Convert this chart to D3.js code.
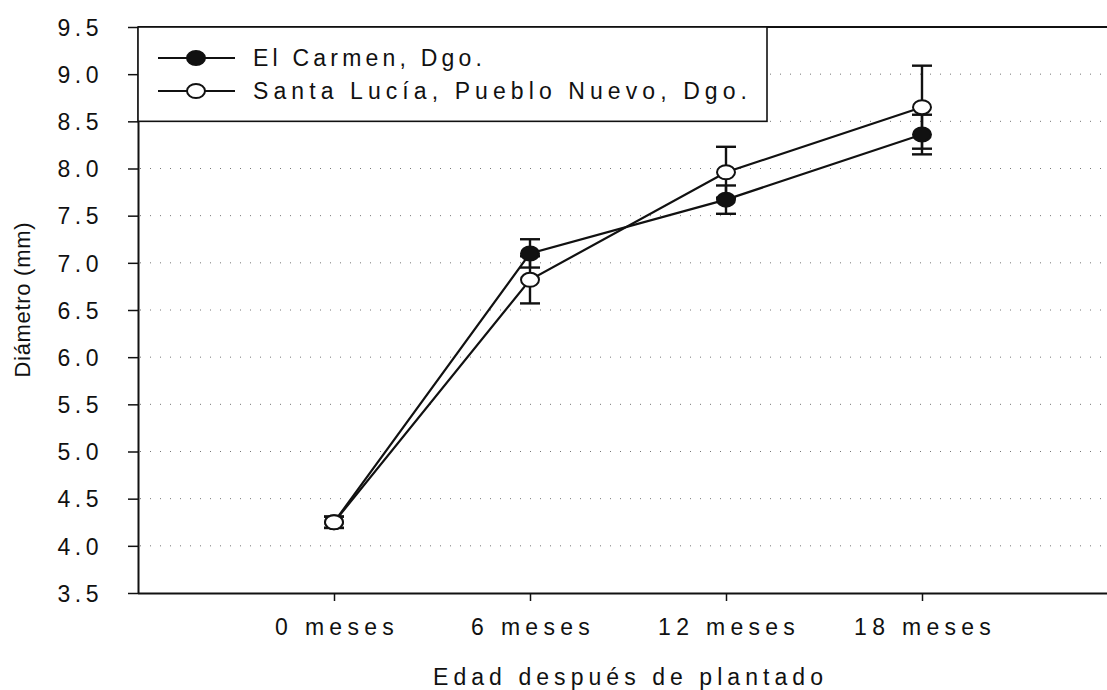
<!DOCTYPE html>
<html>
<head>
<meta charset="utf-8">
<script src="https://cdn.jsdelivr.net/npm/d3@7/dist/d3.min.js"></script>
<style>
  html, body { margin: 0; padding: 0; background: #fff; }
  svg { display: block; }
  text { font-family: "Liberation Sans", Arial, sans-serif; fill: #111; }
</style>
</head>
<body>
<svg id="chart" width="1107" height="690"></svg>
<script>
// Stem diameter by age after planting, two seed sources
const categories = ["0 meses", "6 meses", "12 meses", "18 meses"];
const seriesNames = ["El Carmen, Dgo.", "Santa Lucía, Pueblo Nuevo, Dgo."];
const elCarmen = [4.25, 7.10, 7.67, 8.36];
const elCarmenErr = [0.06, 0.15, 0.15, 0.21];
const santaLucia = [4.25, 6.82, 7.96, 8.65];
const santaLuciaErr = [0.06, 0.25, 0.27, 0.44];
const yTicks = [3.5, 4.0, 4.5, 5.0, 5.5, 6.0, 6.5, 7.0, 7.5, 8.0, 8.5, 9.0, 9.5];
const gridValues = [4.0, 4.5, 5.0, 5.5, 6.0, 6.5, 7.0, 7.5, 8.0, 8.5, 9.0];
const xTitle = "Edad después de plantado";
const yTitle = "Diámetro (mm)";

const svg = d3.select("#chart");
const W = 1107;
const plotLeft = 138, plotTop = 27, plotBottom = 593;
const fontFamily = "'Liberation Sans', Arial, sans-serif";

const x = d3.scaleLinear().domain([-1, 4]).range([plotLeft, plotLeft + 5 * 196]);
const y = d3.scaleLinear().domain([3.5, 9.5]).range([plotBottom, plotTop]);

// dotted horizontal gridlines
svg.append("g").selectAll("line").data(gridValues).join("line")
  .attr("x1", plotLeft + 2).attr("x2", W)
  .attr("y1", d => y(d)).attr("y2", d => y(d))
  .attr("stroke", "#777").attr("stroke-width", 1)
  .attr("stroke-dasharray", "1,9");

// top frame line
svg.append("line")
  .attr("x1", plotLeft).attr("x2", W).attr("y1", y(9.5)).attr("y2", y(9.5))
  .attr("stroke", "#111").attr("stroke-width", 2);

// y axis
const yAxis = d3.axisLeft(y).tickValues(yTicks).tickFormat(d3.format(".1f"))
  .tickSize(10).tickSizeOuter(0).tickPadding(25);
const gy = svg.append("g").attr("transform", `translate(${plotLeft},0)`).call(yAxis);
gy.select(".domain").attr("stroke", "#111").attr("stroke-width", 2);
gy.selectAll(".tick line").attr("stroke", "#111").attr("stroke-width", 1.5);
gy.selectAll(".tick text").style("font-size", "23px").style("letter-spacing", "4.5px")
  .style("font-family", fontFamily)
  .attr("dy", "0.36em").attr("fill", "#111");

// x axis
const xAxis = d3.axisBottom(x).tickValues(d3.range(categories.length))
  .tickFormat(i => categories[i]).tickSize(8).tickSizeOuter(0).tickPadding(18);
const gx = svg.append("g").attr("transform", `translate(0,${plotBottom})`).call(xAxis);
gx.select(".domain").attr("stroke", "#111").attr("stroke-width", 2)
  .attr("d", `M${plotLeft},0.5H${W}`);
gx.selectAll(".tick line").attr("stroke", "#111").attr("stroke-width", 1.5);
gx.selectAll(".tick text").style("font-size", "23px").style("letter-spacing", "5.3px")
  .attr("dx", "2.6px").attr("fill", "#111")
  .style("font-family", fontFamily);

// axis titles, centred on the axis spans
svg.append("text")
  .attr("x", (x(-1) + x(4)) / 2).attr("y", 685)
  .attr("text-anchor", "middle")
  .attr("textLength", 390).attr("lengthAdjust", "spacing")
  .style("font-size", "23px")
  .text(xTitle);

svg.append("text")
  .attr("transform", `translate(30,300) rotate(-90)`)
  .attr("text-anchor", "middle")
  .attr("textLength", 155).attr("lengthAdjust", "spacing")
  .style("font-size", "22px")
  .text(yTitle);

const series = [
  { name: seriesNames[0], values: elCarmen, err: elCarmenErr, fill: "#111" },
  { name: seriesNames[1], values: santaLucia, err: santaLuciaErr, fill: "#fff" }
];

const plot = svg.append("g");
const capW = 10;

// error bars
series.forEach(s => {
  const g = plot.append("g");
  s.values.forEach((v, i) => {
    const cx = x(i);
    g.append("line").attr("x1", cx).attr("x2", cx)
      .attr("y1", y(v + s.err[i])).attr("y2", y(v - s.err[i]))
      .attr("stroke", "#111").attr("stroke-width", 2.4);
    [v + s.err[i], v - s.err[i]].forEach(e => {
      g.append("line").attr("x1", cx - capW).attr("x2", cx + capW)
        .attr("y1", y(e)).attr("y2", y(e))
        .attr("stroke", "#111").attr("stroke-width", 2.4);
    });
  });
});

// connecting lines
const line = d3.line().x((d, i) => x(i)).y(d => y(d));
series.forEach(s => {
  plot.append("path").datum(s.values).attr("d", line)
    .attr("fill", "none").attr("stroke", "#111").attr("stroke-width", 2.2);
});

// markers
series.forEach(s => {
  plot.append("g").selectAll("ellipse").data(s.values).join("ellipse")
    .attr("cx", (d, i) => x(i)).attr("cy", d => y(d))
    .attr("rx", 9).attr("ry", 7)
    .attr("fill", s.fill).attr("stroke", "#111").attr("stroke-width", 2);
});

// legend
const legend = svg.append("g");
legend.append("rect")
  .attr("x", plotLeft).attr("y", plotTop).attr("width", 629).attr("height", y(8.5) - plotTop)
  .attr("fill", "#fff").attr("stroke", "#111").attr("stroke-width", 1.6);
const rowY = [58, 91];
const textLens = [229, 494];
series.forEach((s, k) => {
  legend.append("line").attr("x1", 158).attr("x2", 235)
    .attr("y1", rowY[k]).attr("y2", rowY[k])
    .attr("stroke", "#111").attr("stroke-width", 2.2);
  legend.append("ellipse").attr("cx", 196).attr("cy", rowY[k])
    .attr("rx", 9).attr("ry", 7)
    .attr("fill", s.fill).attr("stroke", "#111").attr("stroke-width", 2);
  legend.append("text").attr("x", 253).attr("y", rowY[k] + 8)
    .attr("textLength", textLens[k]).attr("lengthAdjust", "spacing")
    .style("font-size", "23px")
    .text(s.name);
});
</script>
</body>
</html>
